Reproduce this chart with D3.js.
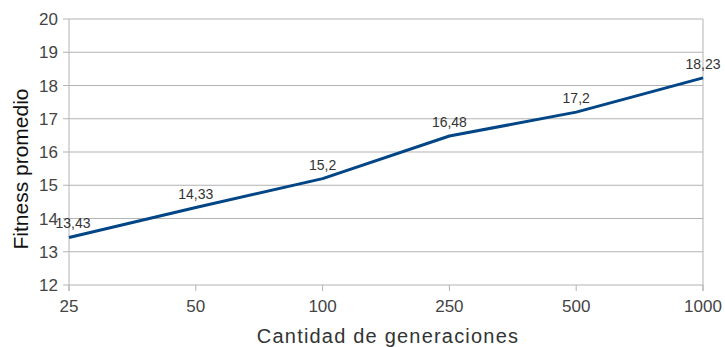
<!DOCTYPE html>
<html>
<head>
<meta charset="utf-8">
<script src="https://cdn.jsdelivr.net/npm/d3@7/dist/d3.min.js"></script>
<style>
  html, body { margin: 0; padding: 0; background: #fff; }
  svg { display: block; font-family: "Liberation Sans", Arial, sans-serif; }
</style>
</head>
<body>
<svg id="chart" width="725" height="347"></svg>
<script>
// Average fitness by number of generations
const generations = ["25", "50", "100", "250", "500", "1000"];
const fitness = [13.43, 14.33, 15.2, 16.48, 17.2, 18.23];
const valueLabels = ["13,43", "14,33", "15,2", "16,48", "17,2", "18,23"];
const yTicks = [12, 13, 14, 15, 16, 17, 18, 19, 20];

const svg = d3.select("#chart");
const margin = { left: 69, right: 22, top: 19, bottom: 62 };
const W = 725, H = 347;

const x = d3.scalePoint().domain(generations).range([margin.left, W - margin.right]);
const y = d3.scaleLinear().domain([12, 20]).range([H - margin.bottom, margin.top]);

const grid = "#b3b3b3";

// horizontal gridlines
svg.append("g")
  .selectAll("line")
  .data(yTicks)
  .join("line")
  .attr("x1", margin.left - 6).attr("x2", W - margin.right)
  .attr("y1", d => y(d)).attr("y2", d => y(d))
  .attr("stroke", grid).attr("stroke-width", 1);

// left and right frame lines
svg.append("line")
  .attr("x1", margin.left).attr("x2", margin.left)
  .attr("y1", y(20)).attr("y2", y(12) + 6)
  .attr("stroke", grid);
svg.append("line")
  .attr("x1", W - margin.right).attr("x2", W - margin.right)
  .attr("y1", y(20)).attr("y2", y(12) + 6)
  .attr("stroke", grid);

// y axis labels
svg.append("g")
  .selectAll("text")
  .data(yTicks)
  .join("text")
  .attr("x", margin.left - 11)
  .attr("y", d => y(d))
  .attr("dy", "0.36em")
  .attr("text-anchor", "end")
  .attr("font-size", 17)
  .attr("fill", "#444")
  .text(d => d);

// x axis ticks and labels
const xg = svg.append("g");
xg.selectAll("line")
  .data(generations)
  .join("line")
  .attr("x1", d => x(d)).attr("x2", d => x(d))
  .attr("y1", y(12)).attr("y2", y(12) + 6)
  .attr("stroke", grid);
xg.selectAll("text")
  .data(generations)
  .join("text")
  .attr("x", d => x(d))
  .attr("y", y(12) + 27)
  .attr("text-anchor", "middle")
  .attr("font-size", 17)
  .attr("fill", "#444")
  .text(d => d);

// axis titles
svg.append("text")
  .attr("x", (margin.left + W - margin.right) / 2 + 2)
  .attr("y", 343)
  .attr("text-anchor", "middle")
  .attr("font-size", 20)
  .attr("letter-spacing", "1.2px")
  .attr("fill", "#333")
  .text("Cantidad de generaciones");

svg.append("text")
  .attr("transform", `translate(28, ${(margin.top + H - margin.bottom) / 2 + 17}) rotate(-90)`)
  .attr("text-anchor", "middle")
  .attr("font-size", 21)
  .attr("fill", "#111")
  .text("Fitness promedio");

// data line
const line = d3.line()
  .x((d, i) => x(generations[i]))
  .y(d => y(d));

svg.append("path")
  .datum(fitness)
  .attr("d", line)
  .attr("fill", "none")
  .attr("stroke", "#004586")
  .attr("stroke-width", 3)
  .attr("stroke-linejoin", "round");

// value labels
svg.append("g")
  .selectAll("text")
  .data(fitness)
  .join("text")
  .attr("x", (d, i) => x(generations[i]) + (i === 0 ? 4 : 0))
  .attr("y", d => y(d) - 9)
  .attr("text-anchor", "middle")
  .attr("font-size", 14)
  .attr("fill", "#333")
  .text((d, i) => valueLabels[i]);
</script>
</body>
</html>
